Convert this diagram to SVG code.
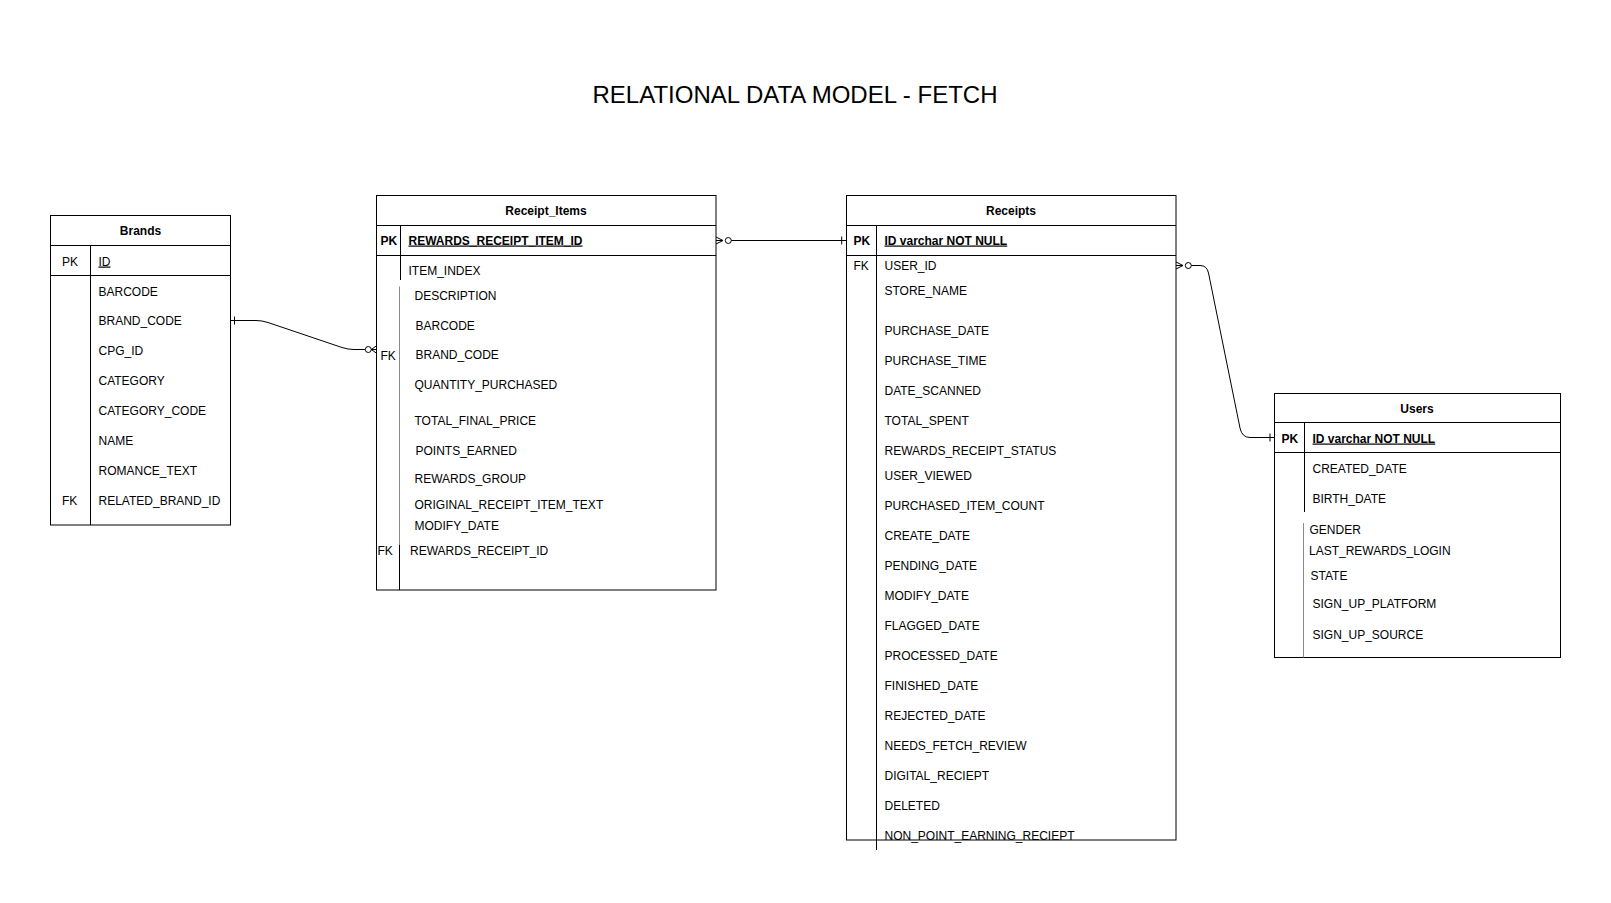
<svg xmlns="http://www.w3.org/2000/svg" width="1611" height="903" viewBox="0 0 1611 903">
<style>
.box{fill:#fff;stroke:#000;stroke-width:1}
.ln{stroke:#000;stroke-width:1;fill:none}
.gl{stroke:#8a8a8a;stroke-width:1;fill:none}
.t{font-family:"Liberation Sans",Arial,sans-serif;font-size:12px;fill:#000}
.h{font-family:"Liberation Sans",Arial,sans-serif;font-size:12px;font-weight:bold;fill:#000;text-anchor:middle}
.b{font-weight:bold}
.u{text-decoration:underline}
.title{font-family:"Liberation Sans",Arial,sans-serif;font-size:24px;fill:#000;text-anchor:middle}
.cn{stroke:#000;stroke-width:1;fill:none}
</style>
<rect width="1611" height="903" fill="#fff"/>
<text class="title" x="795" y="103">RELATIONAL DATA MODEL - FETCH</text>

<g id="brands">
<rect class="box" x="50.5" y="215.5" width="180" height="309.5"/>
<line class="ln" x1="50.5" y1="245.5" x2="230.5" y2="245.5"/>
<line class="ln" x1="50.5" y1="275.5" x2="230.5" y2="275.5"/>
<line class="ln" x1="90.5" y1="245.5" x2="90.5" y2="525"/>
<text class="h" x="140.5" y="235">Brands</text>
<text class="t" x="62" y="265.5">PK</text>
<text class="t u" x="98.5" y="265.5">ID</text>
<text class="t" x="98.5" y="295.5">BARCODE</text>
<text class="t" x="98.5" y="325">BRAND_CODE</text>
<text class="t" x="98.5" y="355">CPG_ID</text>
<text class="t" x="98.5" y="385">CATEGORY</text>
<text class="t" x="98.5" y="415">CATEGORY_CODE</text>
<text class="t" x="98.5" y="445">NAME</text>
<text class="t" x="98.5" y="475">ROMANCE_TEXT</text>
<text class="t" x="62" y="505">FK</text>
<text class="t" x="98.5" y="505">RELATED_BRAND_ID</text>
</g>

<g id="receipt_items">
<rect class="box" x="376.5" y="195.5" width="339.5" height="394.5"/>
<line class="ln" x1="376.5" y1="225.5" x2="716" y2="225.5"/>
<line class="ln" x1="376.5" y1="255.5" x2="716" y2="255.5"/>
<line class="ln" x1="400.5" y1="225.5" x2="400.5" y2="280"/>
<line class="gl" x1="399.5" y1="286.5" x2="399.5" y2="545"/>
<line class="ln" x1="399.5" y1="545" x2="399.5" y2="590"/>
<text class="h" x="546" y="214.5">Receipt_Items</text>
<text class="t b" x="380.5" y="244.5">PK</text>
<text class="t b u" x="408.5" y="244.5">REWARDS_RECEIPT_ITEM_ID</text>
<text class="t" x="408.5" y="275">ITEM_INDEX</text>
<text class="t" x="414.5" y="300">DESCRIPTION</text>
<text class="t" x="415.5" y="330">BARCODE</text>
<text class="t" x="380.5" y="360">FK</text>
<text class="t" x="415.5" y="358.5">BRAND_CODE</text>
<text class="t" x="414.5" y="388.5">QUANTITY_PURCHASED</text>
<text class="t" x="414.5" y="425">TOTAL_FINAL_PRICE</text>
<text class="t" x="415.5" y="455">POINTS_EARNED</text>
<text class="t" x="414.5" y="482.5">REWARDS_GROUP</text>
<text class="t" x="414.5" y="508.5">ORIGINAL_RECEIPT_ITEM_TEXT</text>
<text class="t" x="414.5" y="530">MODIFY_DATE</text>
<text class="t" x="377.5" y="555">FK</text>
<text class="t" x="410" y="555">REWARDS_RECEIPT_ID</text>
</g>

<g id="receipts">
<rect class="box" x="846.5" y="195.5" width="329.5" height="644.5"/>
<line class="ln" x1="846.5" y1="225.5" x2="1176" y2="225.5"/>
<line class="ln" x1="846.5" y1="255.5" x2="1176" y2="255.5"/>
<line class="ln" x1="876.5" y1="225.5" x2="876.5" y2="850"/>
<text class="h" x="1011" y="214.5">Receipts</text>
<text class="t b" x="853.5" y="244.5">PK</text>
<text class="t b u" x="884.5" y="244.5">ID varchar NOT NULL</text>
<text class="t" x="853.5" y="269.5">FK</text>
<text class="t" x="884.5" y="269.5">USER_ID</text>
<text class="t" x="884.5" y="295">STORE_NAME</text>
<text class="t" x="884.5" y="335">PURCHASE_DATE</text>
<text class="t" x="884.5" y="365">PURCHASE_TIME</text>
<text class="t" x="884.5" y="394.5">DATE_SCANNED</text>
<text class="t" x="884.5" y="424.5">TOTAL_SPENT</text>
<text class="t" x="884.5" y="454.5">REWARDS_RECEIPT_STATUS</text>
<text class="t" x="884.5" y="480">USER_VIEWED</text>
<text class="t" x="884.5" y="509.5">PURCHASED_ITEM_COUNT</text>
<text class="t" x="884.5" y="539.5">CREATE_DATE</text>
<text class="t" x="884.5" y="569.5">PENDING_DATE</text>
<text class="t" x="884.5" y="599.5">MODIFY_DATE</text>
<text class="t" x="884.5" y="629.5">FLAGGED_DATE</text>
<text class="t" x="884.5" y="659.5">PROCESSED_DATE</text>
<text class="t" x="884.5" y="689.5">FINISHED_DATE</text>
<text class="t" x="884.5" y="719.5">REJECTED_DATE</text>
<text class="t" x="884.5" y="749.5">NEEDS_FETCH_REVIEW</text>
<text class="t" x="884.5" y="779.5">DIGITAL_RECIEPT</text>
<text class="t" x="884.5" y="809.5">DELETED</text>
<text class="t" x="884.5" y="839.5">NON_POINT_EARNING_RECIEPT</text>
</g>

<g id="users">
<rect class="box" x="1274.5" y="393.5" width="286" height="264"/>
<line class="ln" x1="1274.5" y1="422.5" x2="1560.5" y2="422.5"/>
<line class="ln" x1="1274.5" y1="452.5" x2="1560.5" y2="452.5"/>
<line class="ln" x1="1304.5" y1="422.5" x2="1304.5" y2="512"/>
<line class="gl" x1="1303.5" y1="523" x2="1303.5" y2="657.5"/>
<text class="h" x="1417" y="412.5">Users</text>
<text class="t b" x="1281.5" y="442.5">PK</text>
<text class="t b u" x="1312.5" y="442.5">ID varchar NOT NULL</text>
<text class="t" x="1312.5" y="472.5">CREATED_DATE</text>
<text class="t" x="1312.5" y="502.5">BIRTH_DATE</text>
<text class="t" x="1309.5" y="533.5">GENDER</text>
<text class="t" x="1309" y="554.5">LAST_REWARDS_LOGIN</text>
<text class="t" x="1310.5" y="580">STATE</text>
<text class="t" x="1312.5" y="607.5">SIGN_UP_PLATFORM</text>
<text class="t" x="1312.5" y="639">SIGN_UP_SOURCE</text>
</g>

<g id="connectors">
<g id="brands-receipt_items">
<path class="cn" d="M230.5,320.5 L256,320.5 Q262,320.5 268,322.5 L342,347.5 Q348,349.5 354,349.5 L365.3,349.5"/>
<line class="cn" x1="234.5" y1="316.5" x2="234.5" y2="324.5"/>
<circle cx="368.3" cy="349.5" r="3" fill="#fff" stroke="#000"/>
<path class="cn" d="M371.3,349.5 L376.5,345.8 M371.3,349.5 L376.5,349.5 M371.3,349.5 L376.5,353.2"/>
</g>
<g id="receipt_items-receipts">
<path class="cn" d="M723,240.5 L716,237 M723,240.5 L716,240.5 M723,240.5 L716,244"/>
<circle cx="728.3" cy="240.5" r="3" fill="#fff" stroke="#000"/>
<line class="cn" x1="731.3" y1="240.5" x2="846.5" y2="240.5"/>
<line class="cn" x1="841.7" y1="236.5" x2="841.7" y2="244.5"/>
</g>
<g id="receipts-users">
<path class="cn" d="M1183,265.5 L1176,262 M1183,265.5 L1176,265.5 M1183,265.5 L1176,269"/>
<circle cx="1188.3" cy="265.5" r="3" fill="#fff" stroke="#000"/>
<path class="cn" d="M1191.3,265.5 L1200,265.5 Q1207,265.5 1208.5,273 L1240,428 Q1242,437.5 1250,437.5 L1274.5,437.5"/>
<line class="cn" x1="1270" y1="433.5" x2="1270" y2="441.5"/>
</g>
</g>
</svg>
